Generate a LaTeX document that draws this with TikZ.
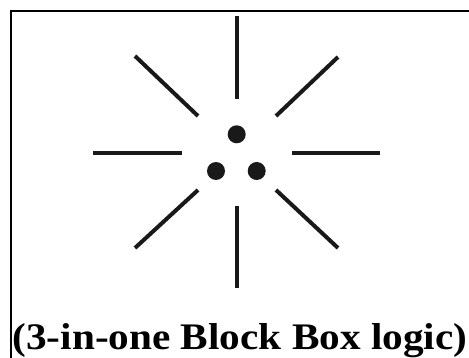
\documentclass[tikz,border=0pt]{standalone}
\usepackage{fontspec}
\setmainfont{Liberation Serif}
\begin{document}
\begin{tikzpicture}[x=1pt,y=-1pt,
  ray/.style={line width=4pt,black!90},
  dot/.style={circle,fill=black!90,inner sep=0pt,minimum size=18pt},
  frame/.style={line width=2pt}]
\useasboundingbox (0,0) rectangle (469,358);
\coordinate (tl) at (11,11);
\coordinate (tr) at (475,11);
\coordinate (bl) at (11,365);
\draw[frame] (bl) -- (tl) -- (tr);
% rays
\coordinate (n1) at (236.7,16); \coordinate (n2) at (236.7,99);
\coordinate (s1) at (236.7,206); \coordinate (s2) at (236.7,288);
\coordinate (w1) at (93,152.7); \coordinate (w2) at (182,152.7);
\coordinate (e1) at (292,152.7); \coordinate (e2) at (380,152.7);
\coordinate (nw1) at (135,56); \coordinate (nw2) at (198,116);
\coordinate (ne1) at (338,57); \coordinate (ne2) at (276,116);
\coordinate (sw1) at (198,190); \coordinate (sw2) at (135,248);
\coordinate (se1) at (276,190); \coordinate (se2) at (338,248);
\draw[ray] (n1) -- (n2);
\draw[ray] (s1) -- (s2);
\draw[ray] (w1) -- (w2);
\draw[ray] (e1) -- (e2);
\draw[ray] (nw1) -- (nw2);
\draw[ray] (ne1) -- (ne2);
\draw[ray] (sw1) -- (sw2);
\draw[ray] (se1) -- (se2);
% dots
\node[dot] (d1) at (236.7,134.3) {};
\node[dot] (d2) at (216,171) {};
\node[dot] (d3) at (256.7,171) {};
% caption
\node[anchor=base,inner sep=0pt,xscale=1.1,transform shape,font=\fontsize{37.5}{40}\selectfont\bfseries] (cap) at (240,349) {(3-in-one Block Box logic)};
\end{tikzpicture}
\end{document}
